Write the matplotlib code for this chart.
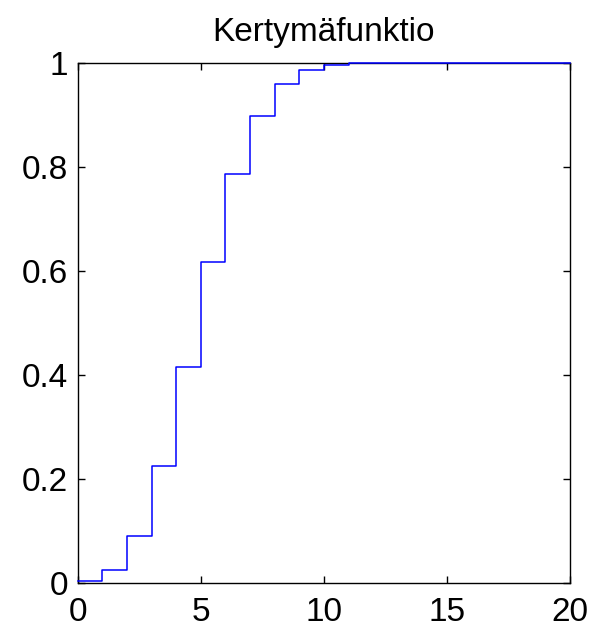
import matplotlib
matplotlib.use("Agg")
import matplotlib.pyplot as plt
import numpy as np

# cumulative values, x = 0..20
x = np.arange(0, 21)
cdf = [0.0032, 0.0243, 0.0913, 0.2252, 0.4148, 0.6172, 0.7858, 0.8982,
       0.9591, 0.9861, 0.9961, 0.9991, 0.9998, 1.0, 1.0, 1.0, 1.0, 1.0,
       1.0, 1.0, 1.0]
xticks = [0, 5, 10, 15, 20]
yticks = [0, 0.2, 0.4, 0.6, 0.8, 1]
ylabels = ['0', '0.2', '0.4', '0.6', '0.8', '1']

plt.rcParams['font.family'] = ['Liberation Sans', 'DejaVu Sans']

fig = plt.figure(figsize=(5.90, 6.29), dpi=100)
ax = fig.add_axes([0.132, 0.073, 0.834, 0.827])

# line drawn over the box, like the matlab stairs plot
ax.step(x, cdf, where='post', color='blue', lw=1.1, zorder=3, clip_on=False)

ax.set_xlim(0, 20)
ax.set_ylim(0, 1)
ax.set_xticks(xticks)
ax.set_yticks(yticks)
ax.set_yticklabels(ylabels)
ax.tick_params(direction='in', top=True, right=True, labelsize=24,
               length=5, width=1)
ax.tick_params(axis='y', pad=7)
ax.tick_params(axis='x', pad=10)
for s in ax.spines.values():
    s.set_linewidth(1)

ax.set_title('Kertymäfunktio', fontsize=24, pad=16)

fig.savefig('out.png', dpi=100)
